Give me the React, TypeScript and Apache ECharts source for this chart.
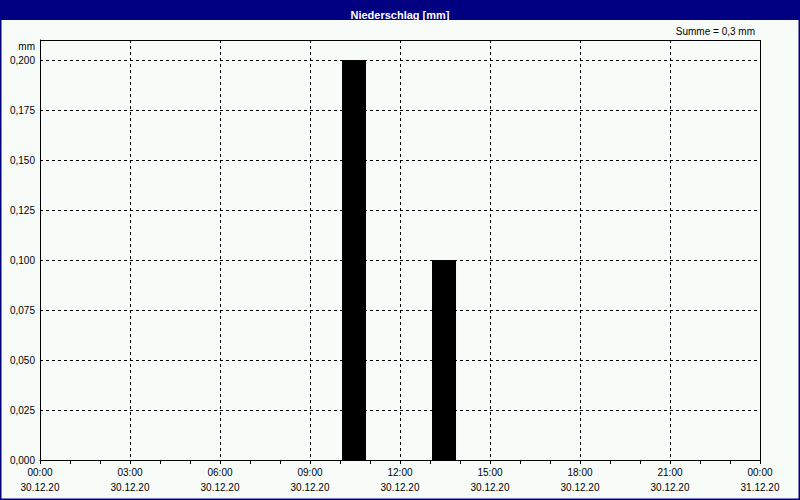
import React, { useEffect, useRef } from "react";
import * as echarts from "echarts";

const hourTicks = [0, 3, 6, 9, 12, 15, 18, 21, 24];
const dateLabels = ["30.12.20", "30.12.20", "30.12.20", "30.12.20", "30.12.20", "30.12.20", "30.12.20", "30.12.20", "31.12.20"];
// bar start hour and precipitation amount (mm)
const barHours = [10, 13];
const barValues = [0.2, 0.1];
const titleText = "Niederschlag [mm]";
const sumText = "Summe = 0,3 mm";
const unitText = "mm";

const FONT = "Liberation Sans";

export default function App() {
  const ref = useRef<HTMLDivElement>(null);
  useEffect(() => {
    if (!ref.current) return;
    document.body.style.margin = "0";
    const chart = echarts.init(ref.current, undefined, { renderer: "svg" });
    const data = barHours.map((h, i) => [h + 0.467, barValues[i]]);
    chart.setOption({
      animation: false,
      backgroundColor: "#f8fcf8",
      textStyle: { fontFamily: FONT },
      title: {
        text: titleText,
        left: "center",
        top: 4,
        textStyle: { color: "#ffffff", fontSize: 11, fontWeight: "bold", fontFamily: FONT },
      },
      graphic: [
        { type: "rect", z: -1, shape: { x: 0, y: 0, width: 800, height: 20 }, style: { fill: "#000080" } },
        { type: "rect", z: 100, shape: { x: 0.5, y: 0.5, width: 799, height: 499 }, style: { fill: "none", stroke: "#000080", lineWidth: 2 } },
        { type: "rect", z: 100, shape: { x: 40.5, y: 40.5, width: 720, height: 420 }, style: { fill: "none", stroke: "#000000", lineWidth: 1 } },
        { type: "text", x: 755, y: 26, style: { text: sumText, align: "right", fill: "#000", fontSize: 10, fontFamily: FONT } },
        { type: "text", x: 35, y: 41, style: { text: unitText, align: "right", fill: "#000", fontSize: 10, fontFamily: FONT } },
      ],
      grid: {
        left: 40,
        right: 40,
        top: 40,
        bottom: 40,
        show: false,
      },
      xAxis: {
        type: "value",
        min: 0,
        max: 24,
        interval: 3,
        axisLine: { show: true, lineStyle: { color: "#000", width: 1 } },
        axisTick: { show: true, length: 4, lineStyle: { color: "#000" } },
        minorTick: { show: true, splitNumber: 3, length: 4, lineStyle: { color: "#000" } },
        splitLine: { show: true, lineStyle: { color: "#000", type: [3, 3], width: 1 } },
        axisLabel: {
          color: "#000",
          fontSize: 10,
          fontFamily: FONT,
          margin: 5,
          lineHeight: 15,
          formatter: (v: number) => {
            const idx = hourTicks.indexOf(Math.round(v));
            const hh = String(Math.round(v) % 24).padStart(2, "0");
            return `${hh}:00\n${dateLabels[idx] ?? ""}`;
          },
        },
      },
      yAxis: {
        type: "value",
        min: 0,
        max: 0.21,
        interval: 0.025,
        axisLine: { show: true, lineStyle: { color: "#000", width: 1 } },
        axisTick: { show: false },
        splitLine: { show: true, lineStyle: { color: "#000", type: [3, 3], width: 1 } },
        axisLabel: {
          color: "#000",
          fontSize: 10,
          fontFamily: FONT,
          margin: 5,
          showMaxLabel: false,
          formatter: (v: number) => (v > 0.2001 ? "" : v.toFixed(3).replace(".", ",")),
        },
      },
      series: [
        {
          type: "bar",
          data,
          barWidth: 24,
          itemStyle: { color: "#000000" },
        },
      ],
    });
    return () => chart.dispose();
  }, []);
  return <div ref={ref} style={{ position: "absolute", left: 0, top: 0, width: 800, height: 500 }} />;
}
